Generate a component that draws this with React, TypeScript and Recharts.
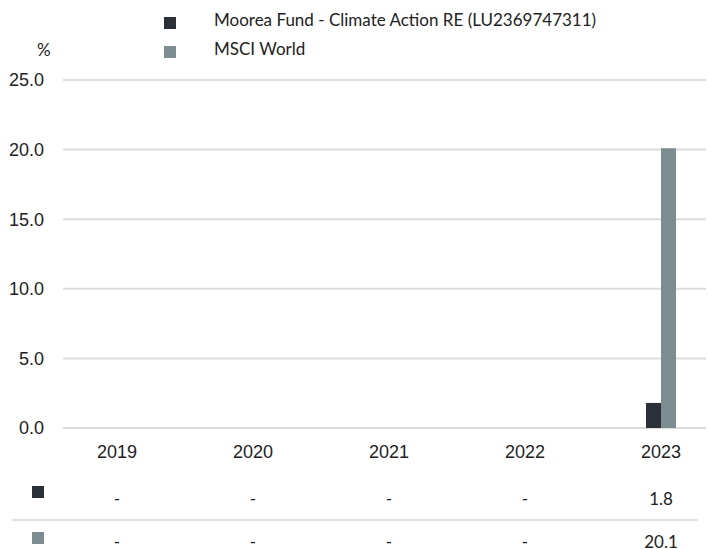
import { BarChart, Bar, XAxis, YAxis, CartesianGrid } from "recharts";

const years: string[] = ["2019", "2020", "2021", "2022", "2023"];
const fundValues: (number | null)[] = [null, null, null, null, 1.8];
const msciValues: (number | null)[] = [null, null, null, null, 20.1];
const yTicks: number[] = [0, 5, 10, 15, 20, 25];
const seriesNames: string[] = ["Moorea Fund - Climate Action RE (LU2369747311)", "MSCI World"];
const seriesColors: string[] = ["#2b2f38", "#7b8d91"];

const data = years.map((year, i) => ({
  year,
  fund: fundValues[i],
  msci: msciValues[i],
}));

const tickFont = { fontFamily: "'Liberation Sans', Arial, sans-serif", fontSize: 18, fill: "#222" };
const labelFont = "Lato, 'Noto Sans', sans-serif";

const fmt = (v: number | null) => (v === null || v === undefined ? "-" : v.toFixed(1));

// one row of the table under the chart, placed on the category scale
function RowTick(props: any) {
  const { x, y, index, payload, values, color, dy, sq } = props;
  const v = values[index];
  return (
    <g>
      {index === 0 && <rect x={32} y={y + dy - sq} width={12} height={12} fill={color} />}
      <text
        x={x}
        y={y + dy}
        textAnchor="middle"
        fontFamily={labelFont}
        fontSize={17}
        fill="#222"
      >
        {fmt(v)}
      </text>
      <title>{payload.value}</title>
    </g>
  );
}

export default function App() {
  return (
    <div style={{ position: "absolute", left: 0, top: 0, width: 708, height: 549, overflow: "hidden", background: "#fff" }}>
      <div style={{ position: "absolute", left: 0, top: 0, fontFamily: labelFont, fontSize: 17, color: "#222" }}>
        {seriesNames.map((name, i) => (
          <div key={name} style={{ position: "absolute", left: 164, top: 17 + i * 29, whiteSpace: "nowrap" }}>
            <span style={{ position: "absolute", left: 0, top: 0, width: 12, height: 12, background: seriesColors[i] }} />
            <span style={{ position: "absolute", left: 50, top: -8 }}>{name}</span>
          </div>
        ))}
        <div style={{ position: "absolute", left: 37, top: 39 }}>%</div>
      </div>
      <div style={{ position: "absolute", left: 12, top: 519, width: 686, height: 2, background: "#e2e2e2" }} />
      <BarChart
        width={708}
        height={549}
        data={data}
        margin={{ top: 80, right: 2, bottom: 0, left: 0 }}
        barGap={0}
        barSize={15}
        style={{ position: "absolute", left: 0, top: 0 }}
      >
        <CartesianGrid vertical={false} stroke="#dcdcdc" strokeWidth={2} />
        <YAxis
          domain={[0, 25]}
          ticks={yTicks}
          tickFormatter={(v: number) => v.toFixed(1)}
          axisLine={false}
          tickLine={false}
          width={63}
          tickMargin={13}
          tick={tickFont}
          interval={0}
        />
        <XAxis
          xAxisId={0}
          dataKey="year"
          axisLine={false}
          tickLine={false}
          height={46}
          tickMargin={11}
          padding={{ left: -14, right: -23 }}
          tick={tickFont}
          interval={0}
        />
        <XAxis
          xAxisId="fund"
          dataKey="year"
          axisLine={false}
          tickLine={false}
          height={46}
          padding={{ left: -14, right: -23 }}
          interval={0}
          tick={<RowTick values={fundValues} color={seriesColors[0]} dy={23} sq={19} />}
        />
        <XAxis
          xAxisId="msci"
          dataKey="year"
          axisLine={false}
          tickLine={false}
          height={29}
          padding={{ left: -14, right: -23 }}
          interval={0}
          tick={<RowTick values={msciValues} color={seriesColors[1]} dy={20} sq={16} />}
        />
        <Bar dataKey="fund" name={seriesNames[0]} fill={seriesColors[0]} isAnimationActive={false} />
        <Bar dataKey="msci" name={seriesNames[1]} fill={seriesColors[1]} isAnimationActive={false} />
      </BarChart>
    </div>
  );
}
